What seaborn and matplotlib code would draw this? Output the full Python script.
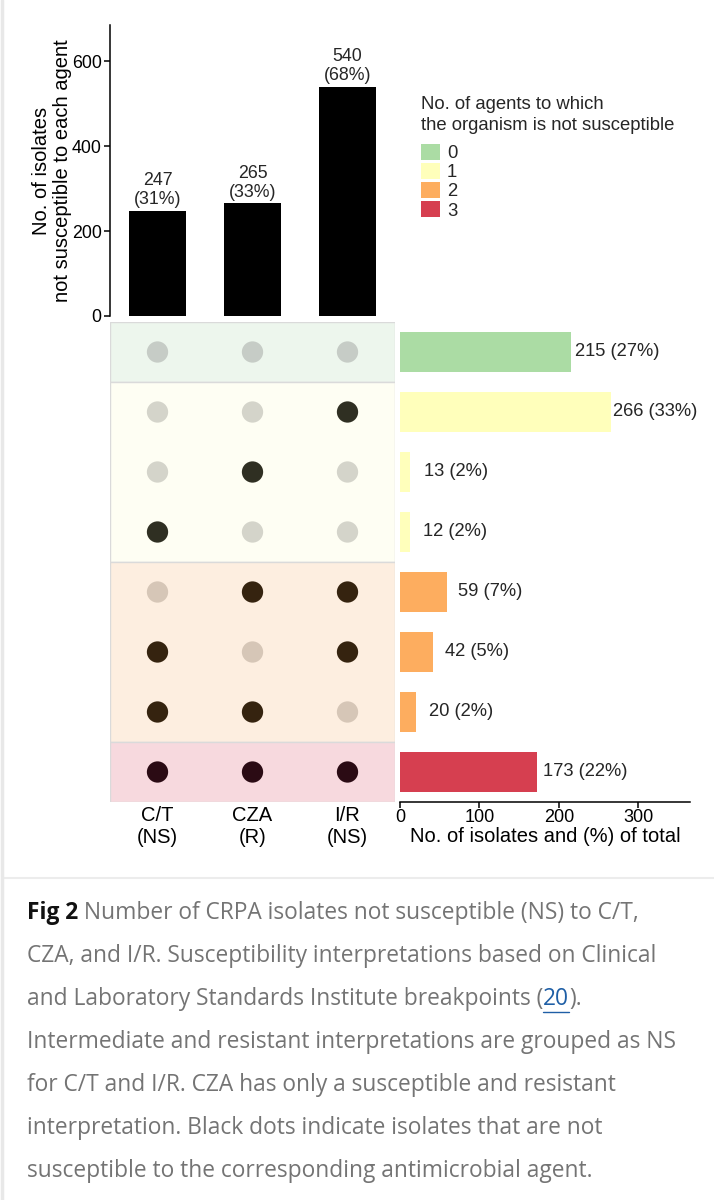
import matplotlib
matplotlib.use('Agg')
import matplotlib.pyplot as plt
from matplotlib.patches import Patch
from matplotlib.lines import Line2D
import numpy as np
import pandas as pd
import seaborn as sns

# top panel: isolates not susceptible to each agent
agents = ['C/T\n(NS)', 'CZA\n(R)', 'I/R\n(NS)']
ns_counts = [247, 265, 540]
ns_pct = [31, 33, 68]

# matrix rows: 1 = not susceptible to that agent
ct_ns = [0, 0, 0, 1, 0, 1, 1, 1]
cza_r = [0, 0, 1, 0, 1, 0, 1, 1]
ir_ns = [0, 1, 0, 0, 1, 1, 0, 1]
combo_counts = [215, 266, 13, 12, 59, 42, 20, 173]
combo_pct = [27, 33, 2, 2, 7, 5, 2, 22]
n_agents_ns = [0, 1, 1, 1, 2, 2, 2, 3]

legend_title = 'No. of agents to which\nthe organism is not susceptible'
legend_labels = ['0', '1', '2', '3']
right_xlabel = 'No. of isolates and (%) of total'
top_ylabel = 'No. of isolates\nnot susceptible to each agent'

caption_lines = [
    [('Fig 2', 'bold'), (' Number of CRPA isolates not susceptible (NS) to C/T,', 'plain')],
    [('CZA, and I/R. Susceptibility interpretations based on Clinical', 'plain')],
    [('and Laboratory Standards Institute breakpoints (', 'plain'), ('20', 'link'), (').', 'plain')],
    [('Intermediate and resistant interpretations are grouped as NS', 'plain')],
    [('for C/T and I/R. CZA has only a susceptible and resistant', 'plain')],
    [('interpretation. Black dots indicate isolates that are not', 'plain')],
    [('susceptible to the corresponding antimicrobial agent.', 'plain')],
]

group_colors = {0: '#abdca4', 1: '#ffffbb', 2: '#fdad5f', 3: '#d63f50'}
band_colors = {0: '#edf6ed', 1: '#fefef3', 2: '#fdeee0', 3: '#f7d9de'}
dot_light = {0: '#c6ccc6', 1: '#d4d4ca', 2: '#d6c6b7', 3: '#c0a8ad'}
dot_dark = {0: '#2f2f22', 1: '#2f2f22', 2: '#35230f', 3: '#2b0b14'}

sns.set_theme(style='white')
plt.rcParams['font.family'] = ['Liberation Sans', 'DejaVu Sans']

W, H = 714, 1200
fig = plt.figure(figsize=(W / 100, H / 100), dpi=100)
fig.patch.set_facecolor('white')


def px_axes(l, t, r, b):
    return fig.add_axes([l / W, 1 - b / H, (r - l) / W, (b - t) / H])


# ---- top bars
ax_top = px_axes(110, 25, 395, 316)
sns.barplot(x=agents, y=ns_counts, color='black', width=0.6, saturation=1,
            linewidth=0, ax=ax_top)
ax_top.set_xlim(-0.5, 2.5)
ax_top.set_ylim(0, 685)
ax_top.set_yticks([0, 200, 400, 600])
ax_top.set_xticks([])
ax_top.set_xlabel('')
for s in ['top', 'right', 'bottom']:
    ax_top.spines[s].set_visible(False)
ax_top.spines['left'].set_color('black')
ax_top.spines['left'].set_linewidth(1.1)
ax_top.tick_params(axis='y', left=True, length=4, width=1.1, color='black',
                   labelsize=12.8, labelcolor='black', pad=2)
ax_top.set_ylabel(top_ylabel, fontsize=14.5, linespacing=1.1, color='black', labelpad=0)
for i, (n, p) in enumerate(zip(ns_counts, ns_pct)):
    ax_top.annotate(f'{n}\n({p}%)', (i, n), xytext=(0, 2), textcoords='offset points',
                    ha='center', va='bottom', fontsize=12.8, linespacing=1.15)

# ---- matrix
ax_mat = px_axes(110, 322, 395, 802)
rows = np.arange(len(combo_counts))
bands = {}
for r, g in zip(rows, n_agents_ns):
    bands.setdefault(g, []).append(r)
for g, rr in bands.items():
    ax_mat.axhspan(min(rr) - 0.5, max(rr) + 0.5, facecolor=band_colors[g],
                   edgecolor='#dadada', linewidth=1.0, zorder=0)

dots = pd.DataFrame({
    'row': np.repeat(rows, 3),
    'agent': np.tile(np.arange(3), len(rows)),
    'ns': np.column_stack([ct_ns, cza_r, ir_ns]).ravel(),
    'group': np.repeat(n_agents_ns, 3),
})
dots['key'] = dots['group'].astype(str) + '_' + dots['ns'].astype(str)
dot_palette = {}
for g in range(4):
    dot_palette[f'{g}_0'] = dot_light[g]
    dot_palette[f'{g}_1'] = dot_dark[g]
sns.scatterplot(data=dots, x='agent', y='row', hue='key', palette=dot_palette,
                s=235, linewidth=0, legend=False, ax=ax_mat, zorder=3)
ax_mat.set_xlim(-0.5, 2.5)
ax_mat.set_ylim(len(rows) - 0.5, -0.5)
ax_mat.set_xticks(range(3))
ax_mat.set_xticklabels(agents, fontsize=14.5, linespacing=1.2)
ax_mat.set_yticks([])
ax_mat.set_xlabel('')
ax_mat.set_ylabel('')
ax_mat.tick_params(axis='x', length=0, pad=3, labelcolor='black')
for s in ax_mat.spines.values():
    s.set_visible(False)

# ---- right bars
ax_r = px_axes(400, 322, 690, 802)
combo = pd.DataFrame({
    'row': [f'r{i}' for i in rows],
    'count': combo_counts,
    'group': n_agents_ns,
})
sns.barplot(data=combo, x='count', y='row', hue='group', palette=group_colors,
            order=list(combo['row']), dodge=False, width=0.68, saturation=1,
            linewidth=0, legend=False, ax=ax_r)
ax_r.set_xlim(0, 365)
ax_r.set_ylim(len(rows) - 0.5, -0.5)
ax_r.set_xticks([0, 100, 200, 300])
ax_r.set_yticks([])
ax_r.set_ylabel('')
ax_r.set_xlabel(right_xlabel, fontsize=14.5, color='black', labelpad=1)
for s in ['top', 'right', 'left']:
    ax_r.spines[s].set_visible(False)
ax_r.spines['bottom'].set_color('black')
ax_r.spines['bottom'].set_linewidth(1.1)
ax_r.tick_params(axis='x', bottom=True, length=4, width=1.1, color='black',
                 labelsize=13, labelcolor='black', pad=1)
cmax = max(combo_counts)
for i, (n, p) in enumerate(zip(combo_counts, combo_pct)):
    ax_r.annotate(f'{n} ({p}%)', (n, i), xytext=(1 + 9 * (1 - n / cmax), 0),
                  textcoords='offset points', ha='left', va='center', fontsize=13.2)

# ---- legend
handles = [Patch(facecolor=group_colors[g], edgecolor='none') for g in range(4)]
leg = fig.legend(handles, legend_labels, title=legend_title, loc='upper left',
                 bbox_to_anchor=(421 / W, 1 - 96 / H), frameon=False, fontsize=13.3,
                 title_fontsize=13.3, handlelength=1.05, handleheight=0.95,
                 labelspacing=0.05, handletextpad=0.35, borderaxespad=0, borderpad=0)
leg._legend_box.align = 'left'
leg._legend_box.sep = 7
leg.get_title().set_linespacing(1.3)

# ---- frame lines of the web page
fig.add_artist(Line2D([3 / W, 1], [1 - 878 / H] * 2, color='#ececec', lw=1.5))
fig.add_artist(Line2D([1.5 / W] * 2, [0, 1], color='#e8e8e8', lw=2.5))

# ---- caption
cap_family = ['Open Sans', 'DejaVu Sans']
cap_styles = {
    'bold': dict(color='#111111', fontweight='bold'),
    'plain': dict(color='#747474'),
    'link': dict(color='#1f5fa6'),
}
renderer = fig.canvas.get_renderer()
y0, dy = 913, 43
for k, runs in enumerate(caption_lines):
    x = 27
    y = y0 + k * dy
    for txt, st in runs:
        t = fig.text(x / W, 1 - y / H, txt, ha='left', va='center', fontsize=16.4,
                     family=cap_family, **cap_styles[st])
        bb = t.get_window_extent(renderer)
        if st == 'link':
            yl = bb.y0 - 1
            fig.add_artist(Line2D([bb.x0 / W, bb.x1 / W], [yl / H, yl / H],
                                  color='#1f5fa6', lw=1))
        x += bb.width

fig.savefig('out.png', dpi=100, facecolor='white')
